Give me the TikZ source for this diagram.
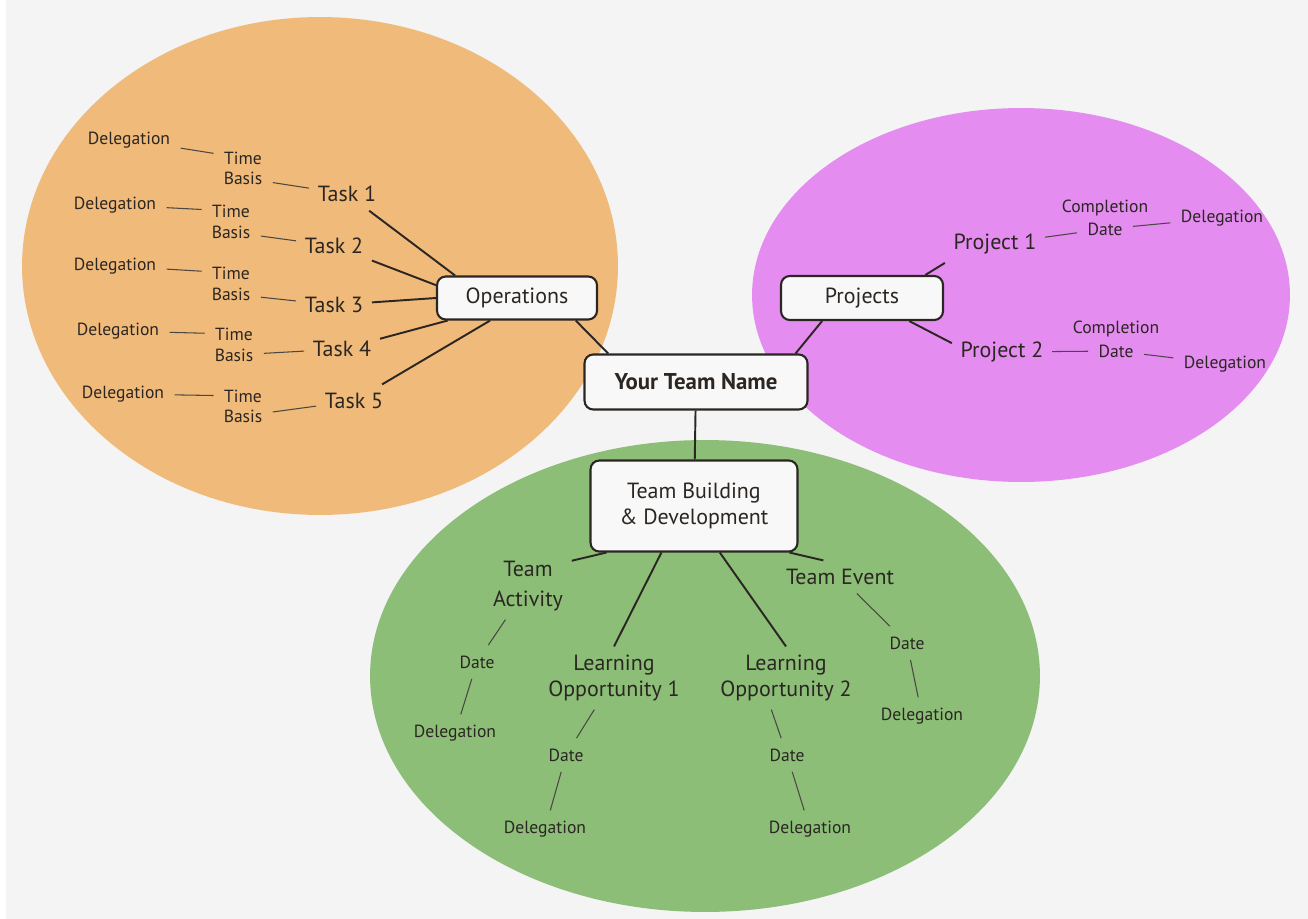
\documentclass[tikz,border=0pt]{standalone}
\usepackage{fontspec}
\setmainfont{PT Sans}
\usetikzlibrary{calc}

\definecolor{opsorange}{HTML}{F0BA7A}
\definecolor{projpink}{HTML}{E48CF0}
\definecolor{teamgreen}{HTML}{8CBE78}
\definecolor{paper}{HTML}{F4F4F4}
\definecolor{ink}{HTML}{2B2622}

\begin{document}
\begin{tikzpicture}[x=0.02cm, y=-0.02cm,
  hub/.style={draw=ink, fill=paper!60!white, line width=1.2pt, rounded corners=5pt, align=center, text=ink, font=\fontsize{12.5}{15}\selectfont},
  branch/.style={text=ink, align=center, inner sep=3pt, outer sep=2pt, font=\fontsize{12.5}{15}\selectfont},
  leaf/.style={text=ink, align=center, inner sep=2pt, outer sep=4pt, font=\fontsize{10}{12}\selectfont},
  bigline/.style={draw=ink, line width=1.1pt},
  smallline/.style={draw=ink!85, line width=0.6pt}]
  \useasboundingbox (0,0) rectangle (1308,919);
  \fill[white] (0,0) rectangle (1308,919);
  \fill[paper] (6,0) rectangle (1308,919);

  % the three areas
  \fill[opsorange] (320,266) ellipse [x radius=5.96cm, y radius=4.98cm];
  \fill[projpink] (1021,295) ellipse [x radius=5.38cm, y radius=3.74cm];
  \fill[teamgreen] (705,676) ellipse [x radius=6.7cm, y radius=4.72cm];

  % boxes
  \node[hub, minimum width=4.46cm, minimum height=1.1cm, font=\fontsize{13}{15}\selectfont\bfseries] (team) at (696,382) {Your Team Name};
  \node[hub, minimum width=3.2cm, minimum height=0.86cm] (ops) at (517,298) {Operations};
  \node[hub, minimum width=3.24cm, minimum height=0.88cm] (proj) at (862,298) {Projects};
  \node[hub, minimum width=4.14cm, minimum height=1.82cm] (build) at (694,506) {Team Building\\\& Development};

  % operations
  \node[branch] (task1) at (347,194) {Task 1};
  \node[branch] (task2) at (334,246) {Task 2};
  \node[branch] (task3) at (334,305) {Task 3};
  \node[branch] (task4) at (342,349) {Task 4};
  \node[branch] (task5) at (354,401) {Task 5};
  \node[leaf] (time1) at (243,158) {Time};
  \node[leaf] (basis1) at (243,178) {Basis};
  \node[leaf] (time2) at (231,211) {Time};
  \node[leaf] (basis2) at (231,232) {Basis};
  \node[leaf] (time3) at (231,273) {Time};
  \node[leaf] (basis3) at (231,294) {Basis};
  \node[leaf] (time4) at (234,334) {Time};
  \node[leaf] (basis4) at (234,355) {Basis};
  \node[leaf] (time5) at (243,396) {Time};
  \node[leaf] (basis5) at (243,416) {Basis};
  \node[leaf] (dele1) at (129,140) {Delegation};
  \node[leaf] (dele2) at (115,205) {Delegation};
  \node[leaf] (dele3) at (115,266) {Delegation};
  \node[leaf] (dele4) at (118,331) {Delegation};
  \node[leaf] (dele5) at (123,394) {Delegation};

  % projects
  \node[branch] (prj1) at (995,244) {Project 1};
  \node[branch] (prj2) at (1002,352) {Project 2};
  \node[leaf] (compl1) at (1105,208) {Completion};
  \node[leaf] (cdate1) at (1105,229) {Date};
  \node[leaf] (pdele1) at (1222,218) {Delegation};
  \node[leaf] (compl2) at (1116,329) {Completion};
  \node[leaf] (cdate2) at (1116,351) {Date};
  \node[leaf] (pdele2) at (1225,364) {Delegation};

  % team building
  \node[branch, font=\fontsize{12.5}{17}\selectfont] (activity) at (528,586) {Team\\Activity};
  \node[branch, font=\fontsize{12.5}{14.5}\selectfont] (learn1) at (614,678) {Learning\\Opportunity 1};
  \node[branch, font=\fontsize{12.5}{14.5}\selectfont] (learn2) at (786,678) {Learning\\Opportunity 2};
  \node[branch] (event) at (840,577) {Team Event};
  \node[leaf] (adate) at (477,662) {Date};
  \node[leaf] (adele) at (455,733) {Delegation};
  \node[leaf] (ldate1) at (566,755) {Date};
  \node[leaf] (ldele1) at (545,829) {Delegation};
  \node[leaf] (ldate2) at (787,755) {Date};
  \node[leaf] (ldele2) at (810,829) {Delegation};
  \node[leaf] (edate) at (907,643) {Date};
  \node[leaf] (edele) at (922,716) {Delegation};

  % main links
  \draw[bigline] (ops.-21) -- (team.162);
  \draw[bigline] (proj.210) -- (team.16);
  \draw[bigline] (team) -- (build);
  \draw[bigline] (task1) -- (ops.160);
  \draw[bigline] (task2) -- (ops.171);
  \draw[bigline] (task3) -- (ops.west);
  \draw[bigline] (task4) -- (ops.198);
  \draw[bigline] (task5) -- (ops.220);
  \draw[bigline] (proj.20) -- (prj1.south west);
  \draw[bigline] (proj.334) -- (prj2.170);
  \draw[bigline] (build.208) -- (activity.30);
  \draw[bigline] (build.235) -- (learn1.north);
  \draw[bigline] (build.299) -- (learn2.north);
  \draw[bigline] (build.334) -- (event.135);

  % small links
  \foreach \i in {1,...,5}{
    \draw[smallline] (dele\i) -- (time\i);
    \draw[smallline] (basis\i) -- (task\i);
  }
  \draw[smallline] (prj1) -- (cdate1);
  \draw[smallline] (cdate1) -- (pdele1);
  \draw[smallline] (prj2) -- (cdate2);
  \draw[smallline] (cdate2) -- (pdele2);
  \draw[smallline] (activity) -- (adate);
  \draw[smallline] (adate) -- (adele);
  \draw[smallline] (learn1) -- (ldate1);
  \draw[smallline] (ldate1) -- (ldele1);
  \draw[smallline] (learn2.245) -- (ldate2);
  \draw[smallline] (ldate2) -- (ldele2);
  \draw[smallline] (event) -- (edate);
  \draw[smallline] (edate) -- (edele);
\end{tikzpicture}
\end{document}
